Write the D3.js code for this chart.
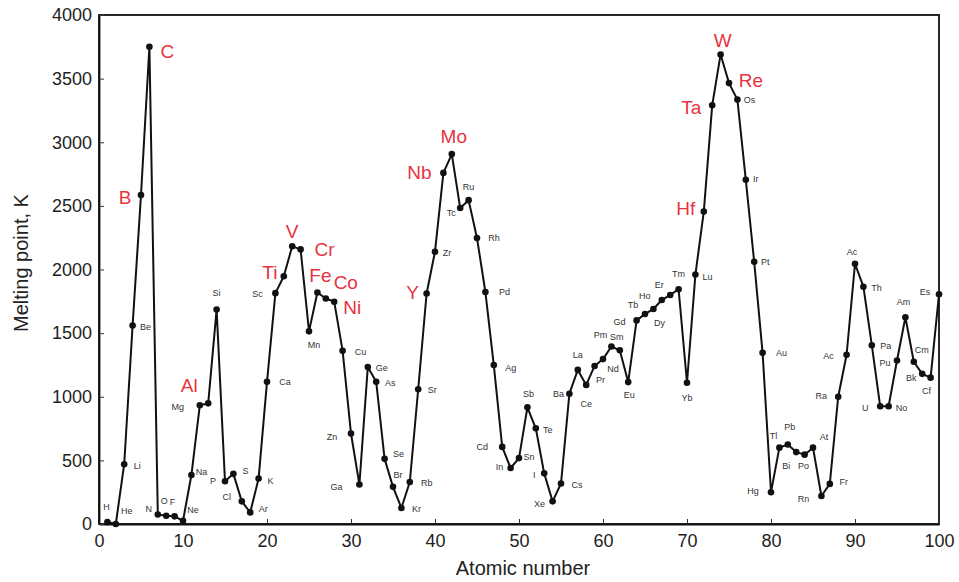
<!DOCTYPE html>
<html>
<head>
<meta charset="utf-8">
<script src="https://cdn.jsdelivr.net/npm/d3@7"></script>
<style>
  html, body { margin: 0; padding: 0; background: #fff; }
  svg { display: block; font-family: "Liberation Sans", Arial, Helvetica, sans-serif; }
</style>
</head>
<body>
<svg id="chart" width="959" height="582"></svg>
<script>
// ---------- data ----------
const atomicNumber = [1,2,3,4,5,6,7,8,9,10,11,12,13,14,15,16,17,18,19,20,
  21,22,23,24,25,26,27,28,29,30,31,32,33,34,35,36,37,38,39,40,
  41,42,43,44,45,46,47,48,49,50,51,52,53,54,55,56,57,58,59,60,
  61,62,63,64,65,66,67,68,69,70,71,72,73,74,75,76,77,78,79,80,
  81,82,83,84,85,86,87,88,89,90,91,92,93,94,95,96,97,98,99,100];

const pointLabel = ["H","He","Li","Be","B","C","N","O","F","Ne",
  "Na","Mg","Al","Si","P","S","Cl","Ar","K","Ca",
  "Sc","Ti","V","Cr","Mn","Fe","Co","Ni","Cu","Zn",
  "Ga","Ge","As","Se","Br","Kr","Rb","Sr","Y","Zr",
  "Nb","Mo","Tc","Ru","Rh","Pd","Ag","Cd","In","Sn",
  "Sb","Te","I","Xe","Cs","Ba","La","Ce","Pr","Nd",
  "Pm","Sm","Eu","Gd","Tb","Dy","Ho","Er","Tm","Yb",
  "Lu","Hf","Ta","W","Re","Os","Ir","Pt","Au","Hg",
  "Tl","Pb","Bi","Po","At","Rn","Fr","Ra","Ac","Ac",
  "Th","Pa","U","No","Pu","Am","Cm","Bk","Cf","Es"];

const meltingPointK = [15,0,470,1560,2585,3750,75,65,60,25,
  385,933,948,1685,336,394,178,91,357,1117,
  1814,1947,2182,2158,1514,1819,1772,1747,1362,711,
  310,1234,1117,512,292,126,330,1059,1811,2140,
  2759,2907,2483,2545,2247,1823,1249,606,440,518,
  917,752,398,178,318,1024,1211,1093,1242,1296,
  1395,1365,1115,1600,1650,1690,1760,1800,1845,1110,
  1960,2455,3290,3690,3465,3335,2705,2060,1345,250,
  600,625,565,545,600,220,315,1000,1330,2045,
  1865,1405,925,925,1285,1625,1275,1180,1150,1805];

const highlighted = ["B","C","Al","Ti","V","Cr","Fe","Co","Ni","Y","Nb","Mo","Hf","Ta","W","Re"];

const xTicks = [0,10,20,30,40,50,60,70,80,90,100];
const yTicks = [0,500,1000,1500,2000,2500,3000,3500,4000];

const xTitle = "Atomic number";
const yTitle = "Melting point, K";

// ---------- layout (label placement relative to each point, px) ----------
const labelOffset = [
  [-1,-15],[11,-13],[13,2],[13,1],[-16,2],[18,4],[-9,-6],[-2,-15],[-2,-15],[10,-11],
  [10,-3],[-22,1],[-19,-18],[0,-17],[-12,0],[12,-3],[-15,-5],[13,-4],[12,2],[18,0],
  [-18,1],[-14,-4],[0,-15],[24,0],[5,13],[3,-17],[20,-16],[18,5],[18,1],[-19,3],
  [-23,2],[14,1],[14,1],[14,-5],[5,-12],[15,1],[17,1],[14,1],[-14,-1],[12,1],
  [-24,-1],[2,-18],[-9,5],[0,-13],[17,0],[19,0],[17,3],[-20,0],[-11,-1],[10,-1],
  [1,-14],[12,1],[-10,1],[-13,2],[16,1],[-11,0],[0,-15],[0,19],[6,14],[10,10],
  [-11,-12],[-3,-14],[1,13],[-17,1],[-12,-9],[6,14],[-17,-4],[-11,-10],[0,-15],[0,15],
  [12,2],[-18,-3],[-21,2],[2,-14],[22,-3],[12,0],[10,-1],[11,0],[19,0],[-18,-1],
  [-6,-12],[2,-18],[-10,14],[-1,11],[11,-11],[-18,3],[14,-2],[-17,-1],[-18,1],[-3,-12],
  [13,1],[14,1],[-15,1],[13,1],[-12,2],[-2,-15],[8,-12],[-11,4],[-4,13],[-14,-3]
];

// ---------- chart ----------
const svg = d3.select("#chart");
const mLeft = 99, mRight = 939, mTop = 15, mBottom = 524;

const x = d3.scaleLinear().domain([0, 100]).range([mLeft, mRight]);
const y = d3.scaleLinear().domain([0, 4000]).range([mBottom, mTop]);

const data = atomicNumber.map((z, i) => ({
  z, v: meltingPointK[i], label: pointLabel[i],
  red: highlighted.includes(pointLabel[i]) && z < 89,
  off: labelOffset[i]
}));

// frame
svg.append("rect")
  .attr("x", mLeft).attr("y", mTop)
  .attr("width", mRight - mLeft).attr("height", mBottom - mTop)
  .attr("fill", "none").attr("stroke", "#111").attr("stroke-width", 1.8);

// axes
const xAxis = d3.axisBottom(x).tickValues(xTicks).tickFormat(d3.format("d"))
  .tickSizeInner(-5).tickSizeOuter(0).tickPadding(10);
const gx = svg.append("g").attr("transform", `translate(0,${mBottom})`).call(xAxis);
const yAxis = d3.axisLeft(y).tickValues(yTicks).tickFormat(d3.format("d"))
  .tickSizeInner(-5).tickSizeOuter(0).tickPadding(7);
const gy = svg.append("g").attr("transform", `translate(${mLeft},0)`).call(yAxis);

[gx, gy].forEach(g => {
  g.select(".domain").attr("stroke", "#111").attr("stroke-width", 1.8);
  g.selectAll(".tick line").attr("stroke", "#333").attr("stroke-width", 1);
  g.selectAll(".tick text")
    .attr("font-size", 18).attr("fill", "#222")
    .attr("font-family", "'Liberation Sans', Arial, sans-serif");
});

// titles
svg.append("text")
  .attr("x", 523).attr("y", 575)
  .attr("text-anchor", "middle")
  .attr("font-size", 20).attr("fill", "#222")
  .text(xTitle);

svg.append("text")
  .attr("transform", `translate(28,263) rotate(-90)`)
  .attr("text-anchor", "middle")
  .attr("font-size", 20).attr("fill", "#222")
  .text(yTitle);

// line
const line = d3.line().x(d => x(d.z)).y(d => y(d.v));
svg.append("path").datum(data)
  .attr("d", line)
  .attr("fill", "none").attr("stroke", "#111")
  .attr("stroke-width", 2).attr("stroke-linejoin", "round");

// points
svg.append("g").selectAll("circle").data(data).join("circle")
  .attr("cx", d => x(d.z)).attr("cy", d => y(d.v))
  .attr("r", 3.3).attr("fill", "#111");

// labels
svg.append("g").selectAll("text").data(data).join("text")
  .attr("x", d => x(d.z) + d.off[0])
  .attr("y", d => y(d.v) + d.off[1])
  .attr("text-anchor", "middle")
  .attr("dy", "0.36em")
  .attr("font-size", d => d.red ? 19 : 9)
  .attr("fill", d => d.red ? "#e8333f" : "#333")
  .text(d => d.label);
</script>
</body>
</html>
